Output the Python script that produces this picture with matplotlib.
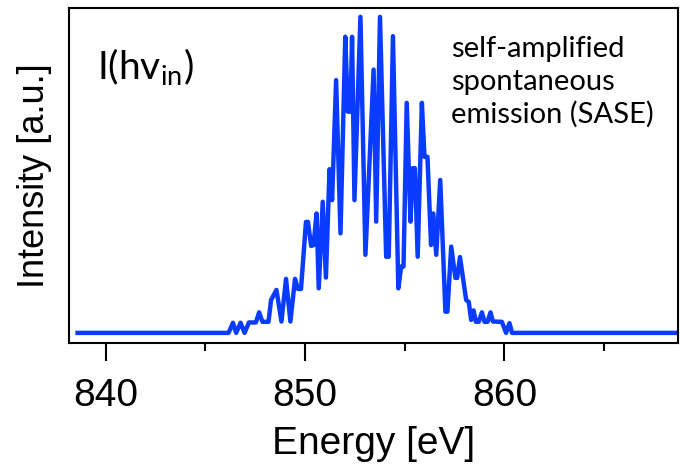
import matplotlib
matplotlib.use("Agg")
import matplotlib.pyplot as plt
from matplotlib.ticker import MultipleLocator

# SASE spectrum (energy in eV, intensity normalised)
energy = [838.60, 846.17, 846.39, 846.55, 846.77, 846.97, 847.19, 847.54, 847.70, 847.87,
          848.17, 848.30, 848.57, 848.82, 849.05, 849.27, 849.50, 849.65, 849.80, 850.05,
          850.15, 850.31, 850.43, 850.58, 850.69, 850.89, 851.05, 851.23, 851.36, 851.56,
          851.78, 852.02, 852.15, 852.28, 852.36, 852.48, 852.78, 853.03, 853.44, 853.57,
          853.76, 854.07, 854.20, 854.41, 854.68, 854.82, 854.94, 855.10, 855.29, 855.40,
          855.51, 855.65, 855.86, 855.99, 856.14, 856.32, 856.43, 856.58, 856.78, 857.04,
          857.14, 857.33, 857.54, 857.63, 857.77, 858.08, 858.21, 858.33, 858.45, 858.57,
          858.71, 858.87, 859.00, 859.15, 859.30, 859.42, 859.87, 860.08, 860.25, 860.38,
          868.57]
intensity = [0.0, 0.0, 0.032, 0.0, 0.032, 0.0, 0.033, 0.033, 0.065, 0.035,
             0.035, 0.104, 0.136, 0.036, 0.171, 0.036, 0.171, 0.139, 0.139, 0.351,
             0.351, 0.275, 0.278, 0.378, 0.141, 0.415, 0.175, 0.518, 0.420, 0.800,
             0.315, 0.937, 0.700, 0.700, 0.937, 0.420, 1.0, 0.247, 0.833, 0.352,
             1.0, 0.241, 0.241, 0.939, 0.141, 0.210, 0.210, 0.728, 0.352, 0.521,
             0.521, 0.241, 0.728, 0.557, 0.557, 0.278, 0.378, 0.247, 0.484, 0.067,
             0.067, 0.273, 0.174, 0.174, 0.240, 0.104, 0.098, 0.041, 0.071, 0.035,
             0.035, 0.065, 0.035, 0.035, 0.065, 0.036, 0.035, 0.0, 0.031, 0.0,
             0.0]

xticks = [840, 850, 860]

plt.rcParams["font.family"] = ["Liberation Sans", "DejaVu Sans"]

fig = plt.figure(figsize=(6.8, 4.66), dpi=100)
ax = fig.add_axes([69 / 680, 1 - 343 / 466, 609 / 680, 335 / 466])

ax.plot(energy, intensity, color="#0a3cff", lw=3.2)

ax.set_xlim(838.17, 868.7)
ax.set_ylim(-0.032, 1.028)

# ticks: only on the bottom, pointing out
ax.set_xticks(xticks)
ax.xaxis.set_minor_locator(MultipleLocator(5))
ax.tick_params(axis="x", which="major", direction="out", length=13, width=1.5,
               labelsize=28, pad=12)
ax.tick_params(axis="x", which="minor", direction="out", length=6, width=1.5)
ax.set_yticks([])
for s in ax.spines.values():
    s.set_linewidth(1.5)

ax.set_xlabel("Energy [eV]", fontsize=28, labelpad=9)
ax.set_ylabel("Intensity [a.u.]", fontsize=26, labelpad=12)

ax.text(0.046, 0.885, r"I(hv$_{\mathregular{in}}$)", transform=ax.transAxes,
        fontsize=28, family=["Lato", "DejaVu Sans"], va="top", ha="left")
ax.text(0.628, 0.915, "self-amplified\nspontaneous\nemission (SASE)",
        transform=ax.transAxes, fontsize=21, family=["Lato", "DejaVu Sans"],
        va="top", ha="left", linespacing=1.3)

fig.savefig("out.png", dpi=100)
